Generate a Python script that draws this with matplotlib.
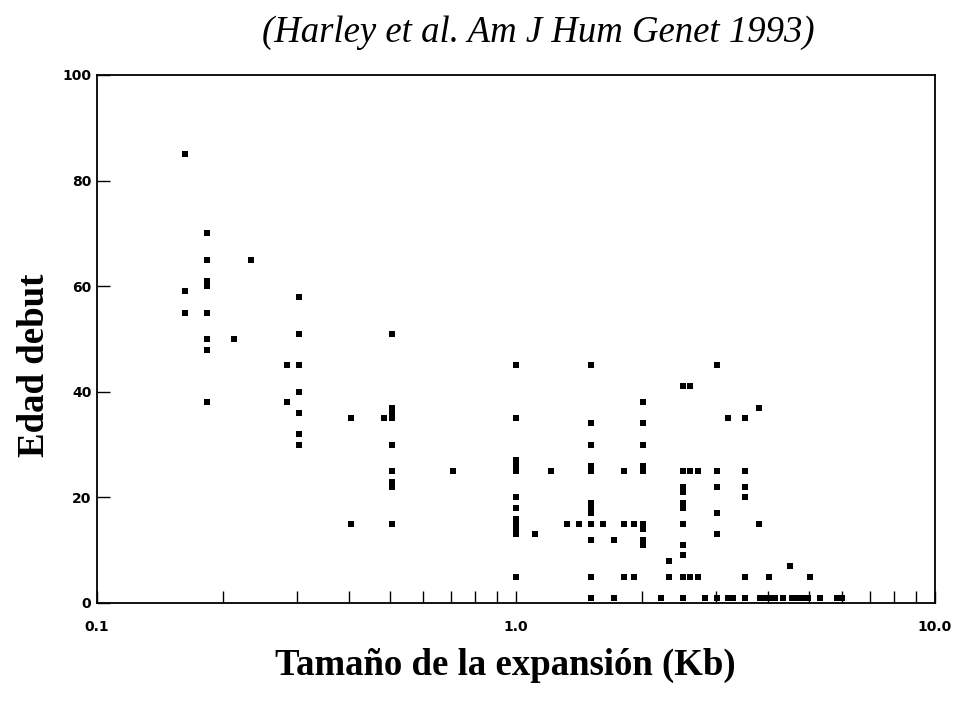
"""Age of onset vs. CTG expansion size (Harley et al. 1993), recreated."""

import matplotlib
matplotlib.use("Agg")
import matplotlib.pyplot as plt
from matplotlib.ticker import FixedLocator, NullFormatter

# expansion size (Kb) of each vertical column of points and the ages seen there
col_kb = [0.162, 0.183, 0.212, 0.233, 0.284, 0.303, 0.404, 0.484, 0.506, 0.707,
          1.00, 1.11, 1.21, 1.32, 1.41, 1.51, 1.61, 1.71, 1.81, 1.91,
          2.01, 2.32, 2.50, 2.60, 2.72, 3.02, 3.21, 3.52, 3.80, 4.02,
          4.51, 5.04]
col_ages = [
    [85, 59, 55],
    [70, 65, 61, 60, 55, 50, 48, 38],
    [50],
    [65],
    [45, 38],
    [58, 51, 45, 40, 36, 32, 30],
    [35, 15],
    [35],
    [51, 37, 36, 35, 30, 25, 23, 22, 15],
    [25],
    [45, 35, 27, 26, 25, 20, 18, 16, 15, 14, 13, 5],
    [13],
    [25],
    [15],
    [15],
    [45, 34, 30, 26, 25, 19, 18, 17, 15, 12, 5],
    [15],
    [12],
    [25, 15, 5],
    [15, 5],
    [38, 34, 30, 26, 25, 15, 14, 12, 11],
    [8, 5],
    [41, 25, 22, 21, 19, 18, 15, 11, 9, 5],
    [41, 25, 5],
    [25, 5],
    [45, 25, 22, 17, 13],
    [35],
    [35, 25, 22, 20, 5],
    [37, 15],
    [5],
    [7],
    [5],
]
# congenital cases sitting on the baseline
base_kb = [1.51, 1.71, 2.22, 2.50, 2.82, 3.02, 3.21, 3.30, 3.52, 3.82, 3.93,
           4.04, 4.15, 4.34, 4.56, 4.66, 4.81, 4.98, 5.32, 5.84, 6.00]
base_age = 1

title = "(Harley et al. Am J Hum Genet 1993)"
xlabel = "Tamaño de la expansión (Kb)"
ylabel = "Edad debut"
x_major = [0.1, 1.0, 10.0]
x_major_labels = ["0.1", "1.0", "10.0"]
y_ticks = [0, 20, 40, 60, 80, 100]

xs = []
ys = []
for kb, ages in zip(col_kb, col_ages):
    xs.extend([kb] * len(ages))
    ys.extend(ages)
xs.extend(base_kb)
ys.extend([base_age] * len(base_kb))

fig = plt.figure(figsize=(9.6, 7.2), dpi=100)
ax = fig.add_axes([0.101, 0.1625, 0.873, 0.7335])

ax.scatter(xs, ys, marker="s", s=14, c="black", linewidths=0, zorder=3)

ax.set_xscale("log")
ax.set_xlim(0.1, 10.0)
ax.set_ylim(0, 100)

ax.xaxis.set_major_locator(FixedLocator(x_major))
ax.set_xticklabels(x_major_labels)
minor = [m * d for d in (0.1, 1.0) for m in range(2, 10)]
ax.xaxis.set_minor_locator(FixedLocator(minor))
ax.xaxis.set_minor_formatter(NullFormatter())
ax.set_yticks(y_ticks)

for lab in ax.get_xticklabels() + ax.get_yticklabels():
    lab.set_fontfamily("DejaVu Sans")
    lab.set_fontweight("bold")
    lab.set_fontsize(10)

ax.tick_params(axis="x", which="both", direction="in", top=False, length=9, width=1.0, pad=12)
ax.tick_params(axis="y", which="both", direction="in", right=False, length=9, width=1.0, pad=4)
for sp in ax.spines.values():
    sp.set_linewidth(1.3)

serif = ["Liberation Serif", "DejaVu Serif"]
fig.text(0.561, 0.955, title, ha="center", va="center", family=serif,
         style="italic", fontsize=26.5)
fig.text(0.526, 0.076, xlabel, ha="center", va="center", family=serif,
         weight="bold", fontsize=26.5)
fig.text(0.036, 0.492, ylabel, ha="center", va="center", family=serif,
         weight="bold", fontsize=26.5, rotation=90)

fig.savefig("out.png", dpi=100)
